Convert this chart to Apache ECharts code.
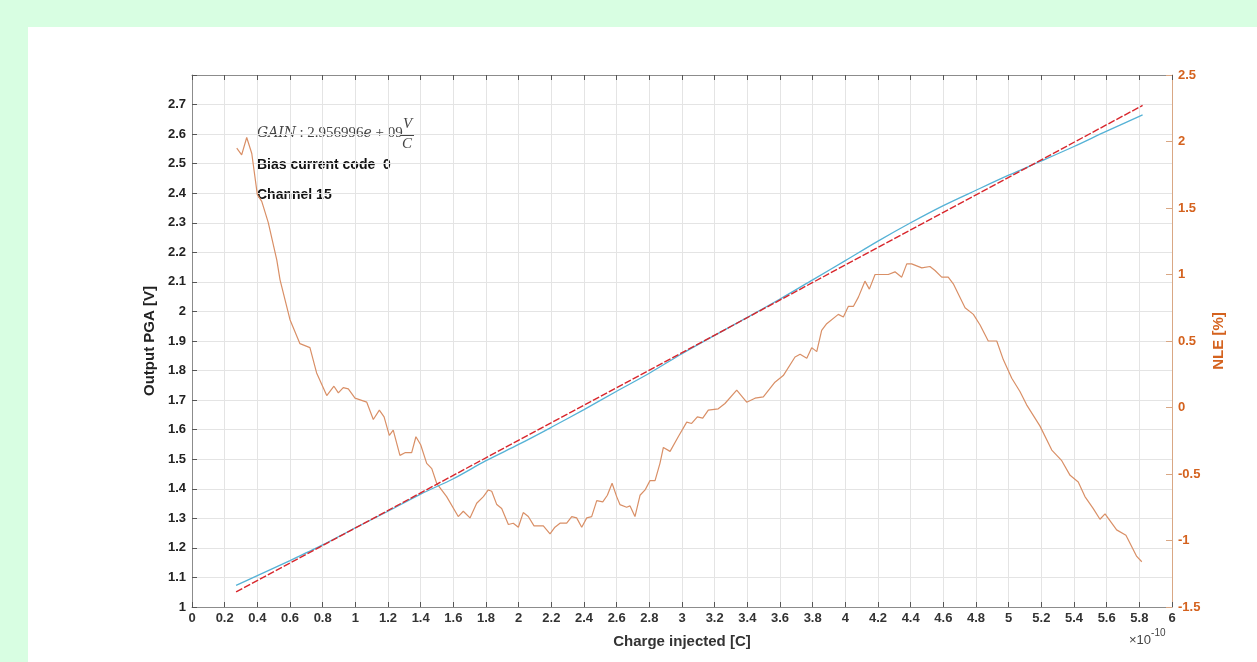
<!DOCTYPE html>
<html>
<head>
<meta charset="utf-8">
<style>
  html, body { margin: 0; padding: 0; background: #d8fee2; }
  #panel { position: absolute; left: 28px; top: 27px; width: 1229px; height: 635px; background: #ffffff; }
  #chart { position: absolute; left: 0; top: 0; width: 1257px; height: 662px; }
</style>
<script src="https://cdn.jsdelivr.net/npm/echarts@6/dist/echarts.min.js"></script>
</head>
<body>
<div id="panel"></div>
<div id="chart"></div>
<script>
// Charge axis values are in units of 1e-10 C
const measCharge = [0.27, 0.4, 0.6, 0.8, 1.0, 1.2, 1.4, 1.6, 1.8, 2.0, 2.2, 2.4, 2.6, 2.8, 3.0,
  3.2, 3.4, 3.6, 3.8, 4.0, 4.2, 4.4, 4.6, 4.8, 5.0, 5.2, 5.4, 5.6, 5.82];
const measOutput = [1.073, 1.106, 1.157, 1.210, 1.268, 1.324, 1.382, 1.434, 1.495, 1.550, 1.608,
  1.668, 1.730, 1.791, 1.857, 1.919, 1.980, 2.042, 2.107, 2.172, 2.238, 2.300, 2.358, 2.410,
  2.461, 2.509, 2.558, 2.610, 2.665];

const fitCharge = [0.27, 5.82];
const fitOutput = [1.051, 2.697];

const nleCharge = [0.274,0.304,0.335,0.366,0.400,0.427,0.467,0.519,0.539,0.600,
  0.661,0.722,0.763,0.825,0.869,0.896,0.926,0.957,0.998,1.070,
  1.110,1.147,1.176,1.208,1.232,1.273,1.304,1.345,1.371,1.400,
  1.437,1.468,1.498,1.559,1.630,1.661,1.702,1.743,1.784,1.814,
  1.835,1.866,1.896,1.937,1.967,1.998,2.028,2.059,2.094,2.151,
  2.192,2.222,2.253,2.294,2.325,2.355,2.386,2.417,2.447,2.478,
  2.515,2.543,2.572,2.600,2.620,2.661,2.682,2.712,2.743,2.774,
  2.804,2.835,2.865,2.886,2.927,2.977,3.029,3.059,3.094,3.127,
  3.161,3.222,3.263,3.335,3.396,3.447,3.498,3.569,3.620,3.692,
  3.723,3.764,3.794,3.825,3.855,3.886,3.957,3.988,4.018,4.049,
  4.080,4.120,4.147,4.182,4.263,4.304,4.345,4.376,4.406,4.468,
  4.518,4.549,4.590,4.630,4.661,4.733,4.784,4.825,4.875,4.927,
  4.967,5.019,5.069,5.110,5.192,5.264,5.325,5.376,5.426,5.467,
  5.518,5.559,5.590,5.661,5.718,5.784,5.815];
const nlePercent = [1.95,1.90,2.03,1.91,1.60,1.55,1.39,1.11,0.96,0.66,
  0.48,0.45,0.26,0.09,0.16,0.11,0.15,0.14,0.07,0.04,
  -0.09,-0.02,-0.07,-0.21,-0.17,-0.36,-0.34,-0.34,-0.22,-0.28,
  -0.42,-0.46,-0.57,-0.67,-0.82,-0.78,-0.83,-0.72,-0.67,-0.62,
  -0.63,-0.73,-0.76,-0.88,-0.87,-0.90,-0.79,-0.82,-0.89,-0.89,
  -0.95,-0.90,-0.87,-0.87,-0.82,-0.83,-0.90,-0.83,-0.82,-0.70,
  -0.71,-0.66,-0.57,-0.67,-0.73,-0.75,-0.74,-0.82,-0.66,-0.62,
  -0.55,-0.55,-0.42,-0.30,-0.33,-0.22,-0.11,-0.12,-0.07,-0.08,
  -0.02,-0.01,0.03,0.13,0.04,0.07,0.08,0.19,0.24,0.38,
  0.40,0.37,0.45,0.42,0.58,0.63,0.70,0.68,0.76,0.76,
  0.83,0.95,0.89,1.00,1.00,1.02,0.98,1.08,1.08,1.05,
  1.06,1.03,0.98,0.98,0.93,0.75,0.70,0.62,0.50,0.50,
  0.36,0.22,0.12,0.02,-0.14,-0.32,-0.40,-0.51,-0.56,-0.67,
  -0.76,-0.84,-0.80,-0.92,-0.96,-1.12,-1.16];

const gainText = '2.956996e + 09';
const biasText = 'Bias current code  0';
const channelText = 'Channel 15';

const zip = (xs, ys) => xs.map((x, i) => [x, ys[i]]);
const trimNum = v => String(+v.toFixed(2));

const axisGray = '#8c8c8c';
const orange = '#d4621e';
const boldFont = 'Liberation Sans, Arial, sans-serif';

const chart = echarts.init(document.getElementById('chart'), null, { renderer: 'canvas' });

chart.setOption({
  backgroundColor: 'transparent',
  animation: false,
  grid: { left: 192, top: 75, right: 85, bottom: 55, containLabel: false },
  xAxis: [
    {
      type: 'value', min: 0, max: 6, interval: 0.2, position: 'bottom',
      name: 'Charge injected [C]', nameLocation: 'middle', nameGap: 27,
      nameTextStyle: { fontFamily: boldFont, fontWeight: 'bold', fontSize: 15, color: '#333' },
      axisLine: { show: true, onZero: false, lineStyle: { color: axisGray, width: 1 } },
      axisTick: { show: true, inside: true, length: 5, lineStyle: { color: '#555' } },
      axisLabel: { formatter: trimNum, fontFamily: boldFont, fontWeight: 'bold', fontSize: 13, color: '#333', margin: 5 },
      splitLine: { show: true, lineStyle: { color: '#e4e4e4', width: 1 } }
    },
    {
      type: 'value', min: 0, max: 6, interval: 0.2, position: 'top',
      axisLine: { show: true, onZero: false, lineStyle: { color: axisGray, width: 1 } },
      axisTick: { show: true, inside: true, length: 5, lineStyle: { color: '#555' } },
      axisLabel: { show: false },
      splitLine: { show: false }
    }
  ],
  yAxis: [
    {
      type: 'value', min: 1, max: 2.8, interval: 0.1, position: 'left',
      name: 'Output PGA [V]', nameLocation: 'middle', nameGap: 33, nameRotate: 90,
      nameTextStyle: { fontFamily: boldFont, fontWeight: 'bold', fontSize: 15, color: '#222' },
      axisLine: { show: true, onZero: false, lineStyle: { color: axisGray, width: 1 } },
      axisTick: { show: true, inside: true, length: 5, lineStyle: { color: '#555' } },
      axisLabel: {
        formatter: v => (Math.abs(v - 2.8) < 1e-6 ? '' : trimNum(v)),
        fontFamily: boldFont, fontWeight: 'bold', fontSize: 13, color: '#222', margin: 6
      },
      splitLine: { show: true, lineStyle: { color: '#e4e4e4', width: 1 } }
    },
    {
      type: 'value', min: -1.5, max: 2.5, interval: 0.5, position: 'right',
      name: 'NLE [%]', nameLocation: 'middle', nameGap: 36, nameRotate: 90,
      nameTextStyle: { fontFamily: boldFont, fontWeight: 'bold', fontSize: 15, color: orange },
      axisLine: { show: true, onZero: false, lineStyle: { color: '#d9a784', width: 1 } },
      axisTick: { show: true, inside: true, length: 6, lineStyle: { color: '#d9a784' } },
      axisLabel: { formatter: trimNum, fontFamily: boldFont, fontWeight: 'bold', fontSize: 13, color: orange, margin: 6 },
      splitLine: { show: false }
    }
  ],
  series: [
    {
      name: 'NLE', type: 'line', xAxisIndex: 0, yAxisIndex: 1,
      data: zip(nleCharge, nlePercent), showSymbol: false, symbol: 'none',
      lineStyle: { color: '#d98f66', width: 1.2 }, z: 2
    },
    {
      name: 'Output', type: 'line', xAxisIndex: 0, yAxisIndex: 0,
      data: zip(measCharge, measOutput), showSymbol: false, symbol: 'none', smooth: 0.3,
      lineStyle: { color: '#55b2d6', width: 1.3 }, z: 3
    },
    {
      name: 'Fit', type: 'line', xAxisIndex: 0, yAxisIndex: 0,
      data: zip(fitCharge, fitOutput), showSymbol: false, symbol: 'none',
      lineStyle: { color: '#d8262c', width: 1.4, type: [7, 2] }, z: 4
    }
  ],
  graphic: [
    {
      type: 'text', left: 257, top: 126,
      style: {
        text: '{it|GAIN} {rm|: ' + gainText.replace('e', '}{it|e}{rm|') + '}',
        rich: {
          it: { fontFamily: 'DejaVu Serif, Liberation Serif, serif', fontStyle: 'italic', fontSize: 14, fill: '#444' },
          rm: { fontFamily: 'Liberation Serif, DejaVu Serif, serif', fontSize: 15, fill: '#444' }
        }
      }
    },
    {
      type: 'text', left: 403, top: 117,
      style: { text: 'V', fontFamily: 'Liberation Serif, serif', fontStyle: 'italic', fontSize: 15, fill: '#444' }
    },
    {
      type: 'line', shape: { x1: 401, y1: 135.5, x2: 414, y2: 135.5 },
      style: { stroke: '#444', lineWidth: 1 }
    },
    {
      type: 'text', left: 402, top: 137,
      style: { text: 'C', fontFamily: 'Liberation Serif, serif', fontStyle: 'italic', fontSize: 15, fill: '#444' }
    },
    {
      type: 'text', left: 257, top: 158,
      style: { text: biasText, fontFamily: boldFont, fontWeight: 'bold', fontSize: 14, fill: '#111' }
    },
    {
      type: 'text', left: 257, top: 188,
      style: { text: channelText, fontFamily: boldFont, fontWeight: 'bold', fontSize: 14, fill: '#111' }
    },
    {
      type: 'text', left: 1129, top: 628,
      style: {
        text: '{a|×10}{b|-10}',
        rich: {
          a: { fontFamily: boldFont, fontSize: 13, fill: '#444', padding: [6, 0, 0, 0] },
          b: { fontFamily: boldFont, fontSize: 10, fill: '#444', verticalAlign: 'top' }
        }
      }
    }
  ]
});
</script>
</body>
</html>
